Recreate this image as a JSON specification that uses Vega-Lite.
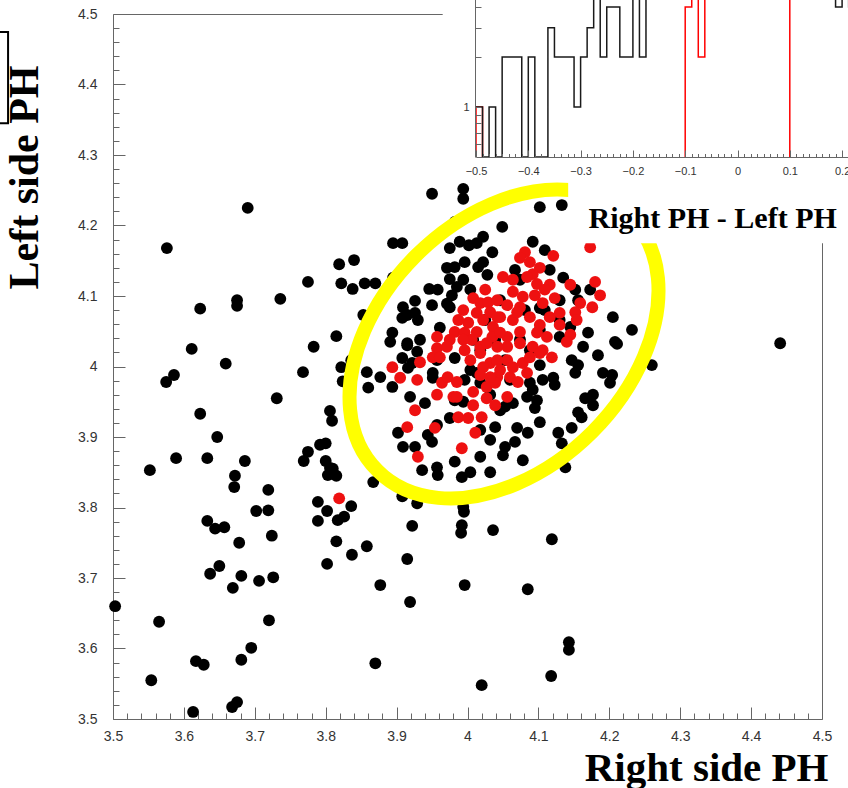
{
"$schema":"https://vega.github.io/schema/vega-lite/v6.json",
"width":709,"height":705,
"autosize":{"type":"none"},
"padding":{"left":113,"top":14,"right":26,"bottom":69},
"background":"white",
"config":{"view":{"stroke":"#666666","strokeWidth":1}},
"datasets":{
"pts":[
{"x":3.690,"y":4.225,"s":"b"},{"x":3.576,"y":4.168,"s":"b"},{"x":3.819,"y":4.145,"s":"b"},{"x":3.775,"y":4.120,"s":"b"},{"x":3.822,"y":4.118,"s":"b"},{"x":3.838,"y":4.110,"s":"b"},{"x":3.675,"y":4.094,"s":"b"},{"x":3.675,"y":4.086,"s":"b"},{"x":3.736,"y":4.096,"s":"b"},{"x":3.623,"y":4.082,"s":"b"},{"x":3.815,"y":4.043,"s":"b"},{"x":3.611,"y":4.025,"s":"b"},{"x":3.783,"y":4.028,"s":"b"},{"x":3.836,"y":4.009,"s":"b"},{"x":3.659,"y":4.004,"s":"b"},{"x":3.822,"y":3.999,"s":"b"},{"x":3.768,"y":3.992,"s":"b"},{"x":3.824,"y":3.979,"s":"b"},{"x":3.586,"y":3.988,"s":"b"},{"x":3.575,"y":3.978,"s":"b"},{"x":3.731,"y":3.955,"s":"b"},{"x":3.623,"y":3.933,"s":"b"},{"x":3.806,"y":3.937,"s":"b"},{"x":3.809,"y":3.923,"s":"b"},{"x":3.647,"y":3.900,"s":"b"},{"x":3.800,"y":3.891,"s":"b"},{"x":3.792,"y":3.889,"s":"b"},{"x":3.775,"y":3.879,"s":"b"},{"x":3.769,"y":3.866,"s":"b"},{"x":3.589,"y":3.870,"s":"b"},{"x":3.633,"y":3.870,"s":"b"},{"x":3.686,"y":3.866,"s":"b"},{"x":3.552,"y":3.853,"s":"b"},{"x":3.800,"y":3.866,"s":"b"},{"x":3.806,"y":3.856,"s":"b"},{"x":3.810,"y":3.855,"s":"b"},{"x":3.803,"y":3.846,"s":"b"},{"x":3.815,"y":3.845,"s":"b"},{"x":3.672,"y":3.845,"s":"b"},{"x":3.671,"y":3.829,"s":"b"},{"x":3.719,"y":3.825,"s":"b"},{"x":3.789,"y":3.808,"s":"b"},{"x":3.836,"y":3.802,"s":"b"},{"x":3.702,"y":3.795,"s":"b"},{"x":3.719,"y":3.796,"s":"b"},{"x":3.802,"y":3.795,"s":"b"},{"x":3.789,"y":3.781,"s":"b"},{"x":3.817,"y":3.782,"s":"b"},{"x":3.826,"y":3.787,"s":"b"},{"x":3.633,"y":3.781,"s":"b"},{"x":3.644,"y":3.770,"s":"b"},{"x":3.657,"y":3.772,"s":"b"},{"x":3.724,"y":3.760,"s":"b"},{"x":3.678,"y":3.750,"s":"b"},{"x":3.815,"y":3.752,"s":"b"},{"x":3.837,"y":3.733,"s":"b"},{"x":3.802,"y":3.720,"s":"b"},{"x":3.650,"y":3.717,"s":"b"},{"x":3.637,"y":3.706,"s":"b"},{"x":3.681,"y":3.703,"s":"b"},{"x":3.706,"y":3.696,"s":"b"},{"x":3.726,"y":3.701,"s":"b"},{"x":3.669,"y":3.686,"s":"b"},{"x":3.503,"y":3.660,"s":"b"},{"x":3.565,"y":3.638,"s":"b"},{"x":3.720,"y":3.640,"s":"b"},{"x":3.695,"y":3.601,"s":"b"},{"x":3.681,"y":3.584,"s":"b"},{"x":3.617,"y":3.582,"s":"b"},{"x":3.628,"y":3.577,"s":"b"},{"x":3.554,"y":3.555,"s":"b"},{"x":3.675,"y":3.524,"s":"b"},{"x":3.668,"y":3.517,"s":"b"},{"x":3.613,"y":3.510,"s":"b"},
{"x":3.867,"y":3.836,"s":"b"},{"x":3.908,"y":3.816,"s":"b"},{"x":3.929,"y":3.806,"s":"b"},{"x":3.994,"y":3.801,"s":"b"},{"x":3.995,"y":3.794,"s":"b"},{"x":3.922,"y":3.774,"s":"b"},{"x":3.992,"y":3.775,"s":"b"},{"x":3.991,"y":3.764,"s":"b"},{"x":4.036,"y":3.768,"s":"b"},{"x":4.119,"y":3.755,"s":"b"},{"x":3.858,"y":3.745,"s":"b"},{"x":3.915,"y":3.727,"s":"b"},{"x":3.877,"y":3.690,"s":"b"},{"x":3.996,"y":3.690,"s":"b"},{"x":4.085,"y":3.684,"s":"b"},{"x":3.919,"y":3.666,"s":"b"},{"x":4.143,"y":3.609,"s":"b"},{"x":4.143,"y":3.598,"s":"b"},{"x":3.870,"y":3.579,"s":"b"},{"x":4.118,"y":3.561,"s":"b"},{"x":4.020,"y":3.548,"s":"b"},
{"x":3.950,"y":4.245,"s":"b"},{"x":3.994,"y":4.252,"s":"b"},{"x":3.994,"y":4.238,"s":"b"},{"x":4.056,"y":4.239,"s":"b"},{"x":3.982,"y":4.205,"s":"b"},{"x":4.049,"y":4.198,"s":"b"},{"x":3.895,"y":4.175,"s":"b"},{"x":3.908,"y":4.175,"s":"b"},{"x":3.975,"y":4.168,"s":"b"},{"x":3.989,"y":4.177,"s":"b"},{"x":4.002,"y":4.172,"s":"b"},{"x":4.013,"y":4.175,"s":"b"},{"x":4.022,"y":4.184,"s":"b"},{"x":4.035,"y":4.162,"s":"b"},{"x":3.840,"y":4.151,"s":"b"},{"x":3.996,"y":4.148,"s":"b"},{"x":4.022,"y":4.148,"s":"b"},{"x":3.971,"y":4.140,"s":"b"},{"x":3.982,"y":4.141,"s":"b"},{"x":4.015,"y":4.141,"s":"b"},{"x":4.028,"y":4.130,"s":"b"},{"x":3.855,"y":4.118,"s":"b"},{"x":3.870,"y":4.118,"s":"b"},{"x":3.895,"y":4.126,"s":"b"},{"x":3.975,"y":4.124,"s":"b"},{"x":3.994,"y":4.123,"s":"b"},{"x":3.946,"y":4.110,"s":"b"},{"x":3.958,"y":4.109,"s":"b"},{"x":3.978,"y":4.101,"s":"b"},{"x":3.985,"y":4.113,"s":"b"},{"x":3.926,"y":4.093,"s":"b"},{"x":3.950,"y":4.087,"s":"b"},{"x":3.909,"y":4.084,"s":"b"},{"x":3.915,"y":4.073,"s":"b"},{"x":3.926,"y":4.076,"s":"b"},{"x":3.930,"y":4.066,"s":"b"},{"x":3.971,"y":4.089,"s":"b"},{"x":3.975,"y":4.084,"s":"b"},{"x":3.853,"y":4.073,"s":"b"},{"x":3.908,"y":4.069,"s":"b"},{"x":3.894,"y":4.048,"s":"b"},{"x":3.961,"y":4.055,"s":"b"},{"x":3.933,"y":4.038,"s":"b"},{"x":3.915,"y":4.033,"s":"b"},{"x":4.008,"y":4.038,"s":"b"},
{"x":4.102,"y":4.226,"s":"b"},{"x":4.133,"y":4.229,"s":"b"},{"x":4.092,"y":4.177,"s":"b"},{"x":4.109,"y":4.165,"s":"b"},{"x":4.067,"y":4.137,"s":"b"},{"x":4.135,"y":4.126,"s":"b"},{"x":4.173,"y":4.109,"s":"b"},{"x":4.156,"y":4.094,"s":"b"},{"x":4.102,"y":4.083,"s":"b"},{"x":4.205,"y":4.070,"s":"b"},{"x":4.232,"y":4.052,"s":"b"},{"x":4.170,"y":4.048,"s":"b"},{"x":4.145,"y":4.056,"s":"b"},{"x":4.208,"y":4.035,"s":"b"},{"x":4.130,"y":4.042,"s":"b"},
{"x":3.891,"y":4.035,"s":"b"},{"x":3.915,"y":4.030,"s":"b"},{"x":3.929,"y":4.021,"s":"b"},{"x":3.908,"y":4.012,"s":"b"},{"x":3.916,"y":3.998,"s":"b"},{"x":3.922,"y":4.005,"s":"b"},{"x":3.858,"y":3.992,"s":"b"},{"x":3.877,"y":3.985,"s":"b"},{"x":3.860,"y":3.970,"s":"b"},{"x":3.894,"y":3.971,"s":"b"},{"x":3.951,"y":3.991,"s":"b"},{"x":3.951,"y":3.984,"s":"b"},{"x":3.919,"y":3.957,"s":"b"},{"x":3.940,"y":3.948,"s":"b"},{"x":3.975,"y":3.927,"s":"b"},{"x":3.957,"y":4.009,"s":"b"},{"x":3.982,"y":4.012,"s":"b"},{"x":4.013,"y":3.991,"s":"b"},{"x":4.018,"y":3.977,"s":"b"},{"x":3.994,"y":3.950,"s":"b"},{"x":4.039,"y":3.914,"s":"b"},{"x":3.957,"y":3.917,"s":"b"},{"x":3.944,"y":3.903,"s":"b"},{"x":3.950,"y":3.893,"s":"b"},{"x":3.902,"y":3.906,"s":"b"},{"x":3.909,"y":3.886,"s":"b"},{"x":3.926,"y":3.886,"s":"b"},{"x":4.032,"y":3.896,"s":"b"},{"x":4.018,"y":3.910,"s":"b"},{"x":4.053,"y":3.886,"s":"b"},{"x":4.050,"y":3.874,"s":"b"},{"x":4.018,"y":3.872,"s":"b"},{"x":3.982,"y":3.865,"s":"b"},{"x":4.004,"y":3.850,"s":"b"},{"x":4.032,"y":3.850,"s":"b"},{"x":3.936,"y":3.853,"s":"b"},{"x":3.957,"y":3.857,"s":"b"},{"x":3.958,"y":3.846,"s":"b"},{"x":3.992,"y":3.843,"s":"b"},
{"x":4.163,"y":4.028,"s":"b"},{"x":4.211,"y":4.032,"s":"b"},{"x":4.184,"y":4.016,"s":"b"},{"x":4.147,"y":4.009,"s":"b"},{"x":4.156,"y":4.002,"s":"b"},{"x":4.152,"y":3.991,"s":"b"},{"x":4.260,"y":4.002,"s":"b"},{"x":4.191,"y":3.991,"s":"b"},{"x":4.204,"y":3.988,"s":"b"},{"x":4.201,"y":3.977,"s":"b"},{"x":4.088,"y":3.977,"s":"b"},{"x":4.092,"y":3.967,"s":"b"},{"x":4.106,"y":3.981,"s":"b"},{"x":4.121,"y":3.984,"s":"b"},{"x":4.123,"y":3.974,"s":"b"},{"x":4.064,"y":3.948,"s":"b"},{"x":4.053,"y":3.943,"s":"b"},{"x":4.084,"y":3.957,"s":"b"},{"x":4.098,"y":3.952,"s":"b"},{"x":4.095,"y":3.941,"s":"b"},{"x":4.166,"y":3.955,"s":"b"},{"x":4.177,"y":3.960,"s":"b"},{"x":4.177,"y":3.945,"s":"b"},{"x":4.156,"y":3.935,"s":"b"},{"x":4.161,"y":3.928,"s":"b"},{"x":4.102,"y":3.921,"s":"b"},{"x":4.070,"y":3.913,"s":"b"},{"x":4.085,"y":3.906,"s":"b"},{"x":4.147,"y":3.913,"s":"b"},{"x":4.128,"y":3.906,"s":"b"},{"x":4.067,"y":3.893,"s":"b"},{"x":4.133,"y":3.891,"s":"b"},{"x":4.078,"y":3.867,"s":"b"},{"x":4.138,"y":3.857,"s":"b"},{"x":4.441,"y":4.033,"s":"b"},
{"x":4.004,"y":4.109,"s":"b"},{"x":4.025,"y":4.066,"s":"b"},{"x":4.046,"y":4.094,"s":"b"},{"x":4.074,"y":4.038,"s":"b"},{"x":4.102,"y":4.052,"s":"b"},{"x":4.053,"y":4.009,"s":"b"},{"x":4.088,"y":4.023,"s":"b"},{"x":4.039,"y":4.038,"s":"b"},{"x":4.109,"y":4.080,"s":"b"},{"x":4.130,"y":4.066,"s":"b"},{"x":4.018,"y":4.023,"s":"b"},{"x":4.004,"y":3.995,"s":"b"},{"x":4.130,"y":4.094,"s":"b"},{"x":4.081,"y":4.080,"s":"b"},{"x":4.060,"y":3.981,"s":"b"},{"x":4.102,"y":4.002,"s":"b"},{"x":4.032,"y":3.960,"s":"b"},{"x":3.996,"y":3.981,"s":"b"},{"x":3.982,"y":3.952,"s":"b"},{"x":4.046,"y":3.938,"s":"b"},{"x":4.074,"y":4.123,"s":"b"},{"x":4.116,"y":4.137,"s":"b"},{"x":4.152,"y":4.109,"s":"b"},
{"x":4.173,"y":4.169,"s":"r"},{"x":4.081,"y":4.162,"s":"r"},{"x":4.074,"y":4.154,"s":"r"},{"x":4.088,"y":4.148,"s":"r"},{"x":4.121,"y":4.157,"s":"r"},{"x":4.102,"y":4.140,"s":"r"},{"x":4.092,"y":4.131,"s":"r"},{"x":4.050,"y":4.127,"s":"r"},{"x":4.064,"y":4.123,"s":"r"},{"x":4.084,"y":4.127,"s":"r"},{"x":4.098,"y":4.117,"s":"r"},{"x":4.116,"y":4.116,"s":"r"},{"x":4.145,"y":4.116,"s":"r"},{"x":4.180,"y":4.120,"s":"r"},{"x":4.187,"y":4.101,"s":"r"},{"x":4.064,"y":4.106,"s":"r"},{"x":4.078,"y":4.099,"s":"r"},{"x":4.095,"y":4.101,"s":"r"},{"x":4.123,"y":4.097,"s":"r"},{"x":4.159,"y":4.090,"s":"r"},{"x":4.176,"y":4.084,"s":"r"},{"x":4.056,"y":4.087,"s":"r"},{"x":4.074,"y":4.084,"s":"r"},{"x":4.106,"y":4.090,"s":"r"},{"x":4.116,"y":4.070,"s":"r"},{"x":4.130,"y":4.076,"s":"r"},{"x":4.152,"y":4.077,"s":"r"},{"x":4.154,"y":4.066,"s":"r"},{"x":4.046,"y":4.070,"s":"r"},{"x":4.064,"y":4.066,"s":"r"},{"x":4.088,"y":4.070,"s":"r"},{"x":4.145,"y":4.045,"s":"r"},{"x":4.074,"y":4.049,"s":"r"},{"x":4.098,"y":4.048,"s":"r"},{"x":4.112,"y":4.042,"s":"r"},{"x":4.056,"y":4.042,"s":"r"},{"x":4.008,"y":4.097,"s":"r"},{"x":4.018,"y":4.090,"s":"r"},{"x":4.029,"y":4.091,"s":"r"},{"x":3.994,"y":4.080,"s":"r"},{"x":4.013,"y":4.076,"s":"r"},{"x":4.032,"y":4.077,"s":"r"},{"x":4.042,"y":4.070,"s":"r"},{"x":3.987,"y":4.066,"s":"r"},{"x":4.001,"y":4.062,"s":"r"},{"x":4.022,"y":4.066,"s":"r"},{"x":4.036,"y":4.056,"s":"r"},{"x":3.982,"y":4.049,"s":"r"},{"x":3.996,"y":4.048,"s":"r"},{"x":4.013,"y":4.049,"s":"r"},{"x":4.035,"y":4.042,"s":"r"},{"x":4.046,"y":4.048,"s":"r"},{"x":3.957,"y":4.042,"s":"r"},{"x":3.975,"y":4.038,"s":"r"},{"x":4.006,"y":4.038,"s":"r"},{"x":4.042,"y":4.094,"s":"r"},{"x":3.894,"y":3.999,"s":"r"},{"x":3.905,"y":3.984,"s":"r"},{"x":3.929,"y":3.981,"s":"r"},{"x":3.933,"y":4.006,"s":"r"},{"x":3.957,"y":4.026,"s":"r"},{"x":3.951,"y":4.013,"s":"r"},{"x":3.971,"y":4.028,"s":"r"},{"x":3.964,"y":3.977,"s":"r"},{"x":3.972,"y":3.985,"s":"r"},{"x":3.985,"y":3.978,"s":"r"},{"x":4.008,"y":3.964,"s":"r"},{"x":3.957,"y":3.960,"s":"r"},{"x":3.980,"y":3.957,"s":"r"},{"x":4.027,"y":3.955,"s":"r"},{"x":3.926,"y":3.938,"s":"r"},{"x":4.008,"y":3.945,"s":"r"},{"x":3.987,"y":3.928,"s":"r"},{"x":4.001,"y":3.927,"s":"r"},{"x":4.020,"y":3.928,"s":"r"},{"x":3.915,"y":3.914,"s":"r"},{"x":3.954,"y":3.913,"s":"r"},{"x":4.011,"y":3.906,"s":"r"},{"x":3.992,"y":3.884,"s":"r"},{"x":3.930,"y":3.872,"s":"r"},{"x":4.018,"y":4.019,"s":"r"},{"x":4.032,"y":4.005,"s":"r"},{"x":4.042,"y":3.985,"s":"r"},{"x":4.056,"y":4.009,"s":"r"},{"x":4.027,"y":3.971,"s":"r"},{"x":4.039,"y":3.977,"s":"r"},{"x":4.056,"y":4.028,"s":"r"},{"x":4.074,"y":4.033,"s":"r"},{"x":4.092,"y":4.028,"s":"r"},{"x":4.106,"y":4.023,"s":"r"},{"x":4.119,"y":4.013,"s":"r"},{"x":4.140,"y":4.035,"s":"r"},{"x":4.064,"y":3.999,"s":"r"},{"x":4.078,"y":4.005,"s":"r"},{"x":4.060,"y":3.985,"s":"r"},{"x":4.071,"y":3.978,"s":"r"},{"x":4.056,"y":3.957,"s":"r"},{"x":3.994,"y":4.038,"s":"r"},{"x":4.018,"y":4.028,"s":"r"},{"x":4.042,"y":4.028,"s":"r"},{"x":4.102,"y":4.019,"s":"r"},{"x":3.961,"y":4.013,"s":"r"},{"x":4.004,"y":4.009,"s":"r"},{"x":4.022,"y":3.999,"s":"r"},{"x":4.042,"y":4.009,"s":"r"},{"x":4.032,"y":3.985,"s":"r"},{"x":3.985,"y":3.957,"s":"r"},{"x":4.025,"y":4.109,"s":"r"},{"x":4.070,"y":4.077,"s":"r"},{"x":4.102,"y":4.059,"s":"r"},{"x":4.027,"y":4.033,"s":"r"},{"x":4.088,"y":4.013,"s":"r"},{"x":4.046,"y":3.995,"s":"r"},{"x":4.109,"y":4.109,"s":"r"},{"x":3.996,"y":4.023,"s":"r"},{"x":4.084,"y":3.991,"s":"r"},{"x":4.039,"y":3.945,"s":"r"},{"x":4.130,"y":4.059,"s":"r"},{"x":4.018,"y":3.988,"s":"r"},{"x":3.819,"y":3.813,"s":"r"}
],
"hb":[
{"e":-0.5,"c":1},{"e":-0.4875,"c":0},{"e":-0.475,"c":1},{"e":-0.4625,"c":0},{"e":-0.45,"c":2},{"e":-0.4375,"c":2},{"e":-0.425,"c":2},{"e":-0.4125,"c":0},{"e":-0.4,"c":2},{"e":-0.3875,"c":0},{"e":-0.375,"c":0},{"e":-0.3625,"c":3},{"e":-0.35,"c":2},{"e":-0.3375,"c":2},{"e":-0.325,"c":2},{"e":-0.3125,"c":1},{"e":-0.3,"c":2},{"e":-0.2875,"c":3},{"e":-0.275,"c":5},{"e":-0.2625,"c":2},{"e":-0.25,"c":4},{"e":-0.2375,"c":4},{"e":-0.225,"c":2},{"e":-0.2125,"c":2},{"e":-0.2,"c":5},{"e":-0.1875,"c":2},{"e":-0.175,"c":6},{"e":-0.1625,"c":6},{"e":-0.15,"c":7},{"e":-0.1375,"c":8},{"e":-0.125,"c":9},{"e":-0.1125,"c":10},{"e":-0.1,"c":12},{"e":-0.0875,"c":13},{"e":-0.075,"c":14},{"e":-0.0625,"c":16},{"e":-0.05,"c":17},{"e":-0.0375,"c":19},{"e":-0.025,"c":20},{"e":-0.0125,"c":21},{"e":0,"c":22},{"e":0.0125,"c":21},{"e":0.025,"c":20},{"e":0.0375,"c":19},{"e":0.05,"c":17},{"e":0.0625,"c":15},{"e":0.075,"c":14},{"e":0.0875,"c":12},{"e":0.1,"c":11},{"e":0.1125,"c":10},{"e":0.125,"c":9},{"e":0.1375,"c":8},{"e":0.15,"c":7},{"e":0.1625,"c":6},{"e":0.175,"c":5},{"e":0.1875,"c":4},{"e":0.2,"c":5},{"e":0.2125,"c":4},{"e":0.225,"c":3},{"e":0.2375,"c":3},{"e":0.25,"c":2},{"e":0.2625,"c":2}
],
"hr":[
{"i":0,"g":"a","e":-0.5,"c":0},{"i":1,"g":"a","e":-0.5,"c":1},{"i":2,"g":"a","e":-0.4875,"c":0},
{"i":3,"g":"b","e":-0.1,"c":0},{"i":4,"g":"b","e":-0.1,"c":4},{"i":5,"g":"b","e":-0.0875,"c":6},{"i":6,"g":"b","e":-0.075,"c":2},{"i":7,"g":"b","e":-0.0625,"c":8},{"i":8,"g":"b","e":-0.05,"c":9},{"i":9,"g":"b","e":-0.0375,"c":10},{"i":10,"g":"b","e":-0.025,"c":11},{"i":11,"g":"b","e":-0.0125,"c":12},{"i":12,"g":"b","e":0,"c":12},{"i":13,"g":"b","e":0.0125,"c":11},{"i":14,"g":"b","e":0.025,"c":10},{"i":15,"g":"b","e":0.0375,"c":9},{"i":16,"g":"b","e":0.05,"c":8},{"i":17,"g":"b","e":0.0625,"c":7},{"i":18,"g":"b","e":0.075,"c":6},{"i":19,"g":"b","e":0.0875,"c":5},{"i":20,"g":"b","e":0.1,"c":0}
]
},
"layer":[
{"layer":[
 {"data":{"name":"pts"},
  "mark":{"type":"circle","size":140,"opacity":1},
  "encoding":{
   "x":{"field":"x","type":"quantitative","scale":{"domain":[3.5,4.5],"nice":false,"zero":false},
    "axis":{"values":[3.5,3.52,3.54,3.56,3.58,3.6,3.62,3.64,3.66,3.68,3.7,3.72,3.74,3.76,3.78,3.8,3.82,3.84,3.86,3.88,3.9,3.92,3.94,3.96,3.98,4,4.02,4.04,4.06,4.08,4.1,4.12,4.14,4.16,4.18,4.2,4.22,4.24,4.26,4.28,4.3,4.32,4.34,4.36,4.38,4.4,4.42,4.44,4.46,4.48,4.5],
     "tickCount":1000,
     "tickSize":{"condition":{"test":"abs(datum.value*10-round(datum.value*10))<1e-6","value":-12},"value":-6},
     "labelExpr":"abs(datum.value*10-round(datum.value*10))<1e-6 ? format(datum.value,'~g') : ''",
     "labelPadding":22,"labelFont":"Liberation Sans","labelFontSize":14,"labelColor":"#333333","labelOverlap":false,"labelFlush":false,"labelBaseline":"top",
     "tickColor":"#666666","domain":false,"grid":false,
     "title":"Right side PH","titleFont":"Liberation Serif","titleFontWeight":"bold","titleFontSize":41,"titleColor":"#000000","titleX":715,"titleY":61,"titleAlign":"right","titleAnchor":null,"titleBaseline":"alphabetic","titleAngle":0}},
   "y":{"field":"y","type":"quantitative","scale":{"domain":[3.5,4.5],"nice":false,"zero":false},
    "axis":{"values":[3.5,3.52,3.54,3.56,3.58,3.6,3.62,3.64,3.66,3.68,3.7,3.72,3.74,3.76,3.78,3.8,3.82,3.84,3.86,3.88,3.9,3.92,3.94,3.96,3.98,4,4.02,4.04,4.06,4.08,4.1,4.12,4.14,4.16,4.18,4.2,4.22,4.24,4.26,4.28,4.3,4.32,4.34,4.36,4.38,4.4,4.42,4.44,4.46,4.48,4.5],
     "tickCount":1000,
     "tickSize":{"condition":{"test":"abs(datum.value*10-round(datum.value*10))<1e-6","value":-12},"value":-6},
     "labelExpr":"abs(datum.value*10-round(datum.value*10))<1e-6 ? format(datum.value,'~g') : ''",
     "labelPadding":28,"labelFont":"Liberation Sans","labelFontSize":14,"labelColor":"#333333","labelOverlap":false,"labelFlush":false,
     "tickColor":"#666666","domain":false,"grid":false,
     "title":"Left side PH","titleFont":"Liberation Serif","titleFontWeight":"bold","titleFontSize":42,"titleColor":"#000000","titleX":-76,"titleY":163,"titleAlign":"center","titleAnchor":null,"titleBaseline":"alphabetic","titleAngle":-90}},
   "color":{"field":"s","type":"nominal","scale":{"domain":["b","r"],"range":["#000000","#ee1111"]},"legend":null}}},
 {"data":{"values":[{}]},
  "mark":{"type":"point","shape":"M 126.57 -126.57 A 179 124 -45 1 0 -126.57 126.57 A 179 124 -45 1 0 126.57 -126.57 Z","size":4,"filled":false,"stroke":"#ffff00","strokeWidth":14,"opacity":1},
  "encoding":{"x":{"datum":4.0515,"type":"quantitative"},"y":{"datum":4.032,"type":"quantitative"}}},
 {"data":{"values":[{}]},
  "mark":{"type":"rect","fill":"#ffffff","stroke":null},
  "encoding":{"x":{"datum":3.965,"type":"quantitative"},"x2":{"datum":4.7},"y":{"datum":4.262,"type":"quantitative"},"y2":{"datum":4.7}}},
 {"data":{"values":[{}]},
  "mark":{"type":"rect","fill":"#ffffff","stroke":null},
  "encoding":{"x":{"datum":4.142,"type":"quantitative"},"x2":{"datum":4.7},"y":{"datum":4.175,"type":"quantitative"},"y2":{"datum":4.7}}},
 {"data":{"values":[{}]},
  "mark":{"type":"rect","fill":null,"fillOpacity":0,"stroke":"#000000","strokeWidth":2},
  "encoding":{"x":{"datum":3.2,"type":"quantitative"},"x2":{"datum":3.352},"y":{"datum":4.345,"type":"quantitative"},"y2":{"datum":4.4745}}}
]},
{"layer":[
 {"data":{"name":"hr"},
  "mark":{"type":"line","interpolate":"step-after","stroke":"#ff0000","strokeWidth":1.5},
  "encoding":{
   "x":{"field":"e","type":"quantitative","scale":{"domain":[-0.5,0.5],"range":[363,886],"nice":false,"zero":false},
    "axis":{"orient":"top","offset":-143,"zindex":1,
     "values":[-0.5,-0.4875,-0.475,-0.4625,-0.45,-0.4375,-0.425,-0.4125,-0.4,-0.3875,-0.375,-0.3625,-0.35,-0.3375,-0.325,-0.3125,-0.3,-0.2875,-0.275,-0.2625,-0.25,-0.2375,-0.225,-0.2125,-0.2,-0.1875,-0.175,-0.1625,-0.15,-0.1375,-0.125,-0.1125,-0.1,-0.0875,-0.075,-0.0625,-0.05,-0.0375,-0.025,-0.0125,0,0.0125,0.025,0.0375,0.05,0.0625,0.075,0.0875,0.1,0.1125,0.125,0.1375,0.15,0.1625,0.175,0.1875,0.2,0.2125,0.225,0.2375,0.25,0.2625,0.275,0.2875,0.3,0.3125,0.325,0.3375,0.35,0.3625,0.375,0.3875,0.4,0.4125,0.425,0.4375,0.45,0.4625,0.475,0.4875,0.5],
     "tickCount":1000,
     "tickSize":{"condition":{"test":"abs(datum.value*10-round(datum.value*10))<1e-6","value":7},"value":3.5},
     "labelExpr":"abs(datum.value*10-round(datum.value*10))<1e-6 ? format(datum.value,'~g') : ''",
     "labelPadding":-15,"labelBaseline":"top","labelFont":"Liberation Sans","labelFontSize":11,"labelColor":"#333333","labelOverlap":false,"labelFlush":false,
     "tickColor":"#666666","domain":true,"domainColor":"#666666","grid":false,
     "title":"Right PH - Left PH","titleFont":"Liberation Serif","titleFontWeight":"bold","titleFontSize":30,"titleColor":"#000000","titleX":475,"titleY":70,"titleAlign":"left","titleAnchor":null,"titleBaseline":"alphabetic","titleAngle":0}},
   "y":{"field":"c","type":"quantitative","scale":{"type":"log","domain":[0.5,10],"range":[143,-73],"clamp":true,"nice":false,"zero":false},
    "axis":{"orient":"left","offset":-362,"zindex":1,
     "values":[0.6,0.7,0.8,0.9,1,2,3,4,5,6,7,8,9,10],
     "tickCount":1000,
     "tickSize":-6,
     "labelExpr":"datum.value==1 ? '1' : ''",
     "labelPadding":12,"labelAlign":"right","labelFont":"Liberation Sans","labelFontSize":11,"labelColor":"#333333","labelOverlap":false,"labelFlush":false,
     "tickColor":"#666666","domain":true,"domainColor":"#666666","grid":false,"title":null}},
   "detail":{"field":"g"},
   "order":{"field":"i","type":"quantitative"}}},
 {"data":{"name":"hb"},
  "mark":{"type":"line","interpolate":"step-after","stroke":"#1a1a1a","strokeWidth":1.5},
  "encoding":{
   "x":{"field":"e","type":"quantitative","scale":{"domain":[-0.5,0.5],"range":[363,886],"nice":false,"zero":false}},
   "y":{"field":"c","type":"quantitative","scale":{"type":"log","domain":[0.5,10],"range":[143,-73],"clamp":true,"nice":false,"zero":false}}}}
]}
],
"resolve":{"scale":{"x":"independent","y":"independent"},"axis":{"x":"independent","y":"independent"}}
}
